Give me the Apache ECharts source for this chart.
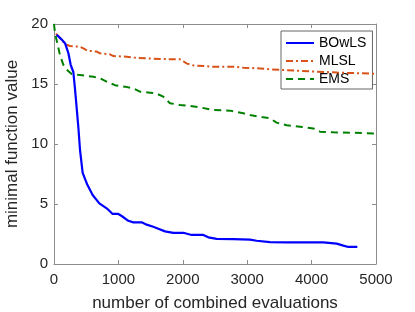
<!DOCTYPE html>
<html><head><meta charset="utf-8">
<script src="https://cdn.jsdelivr.net/npm/echarts@6/dist/echarts.min.js"></script>
<style>html,body{margin:0;padding:0;background:#fff}#c{width:415px;height:312px}</style>
</head><body><div id="c"></div>
<script>
const xTicks = [0, 1000, 2000, 3000, 4000, 5000];
const yTicks = [0, 5, 10, 15, 20];
const bowlsX = [41,119,171,222,259,300,326,378,404,445,518,600,704,818,911,999,1051,1154,1232,1361,1439,1542,1620,1724,1853,2008,2138,2319,2396,2526,2785,3043,3147,3354,3613,4182,4389,4493,4571,4710];
const bowlsY = [19.1,18.7,18.4,17.6,16.6,16.0,14.6,11.4,9.5,7.6,6.6,5.75,5.05,4.64,4.17,4.17,4.0,3.6,3.47,3.47,3.28,3.1,2.94,2.72,2.6,2.6,2.42,2.42,2.22,2.1,2.08,2.03,1.94,1.83,1.8,1.8,1.7,1.53,1.42,1.42];
const mlslX = [30,119,171,248,404,456,518,663,714,870,921,1128,1232,1646,1957,2065,2164,2474,2785,2940,3199,3354,3600,4000,4400,5000];
const mlslY = [19.2,18.7,18.33,18.17,18.1,17.97,17.78,17.7,17.56,17.47,17.33,17.28,17.2,17.08,17.06,16.7,16.55,16.44,16.44,16.36,16.3,16.22,16.15,16.05,15.95,15.85];
const emsX = [0,16,52,93,145,197,274,404,611,714,818,947,1102,1232,1335,1490,1594,1697,1801,1957,2112,2267,2474,2733,2940,3043,3250,3354,3457,3613,3820,4027,4130,4337,4648,5000];
const emsY = [20,19.2,18.4,17.4,16.6,16.2,15.83,15.75,15.6,15.47,15.2,14.9,14.78,14.64,14.36,14.28,14.2,13.94,13.4,13.25,13.17,13.05,12.83,12.78,12.56,12.42,12.22,12.14,11.78,11.56,11.44,11.3,11.03,10.97,10.94,10.86];
const names = ['BOwLS', 'MLSL', 'EMS'];
const zip = (a, b) => a.map((v, i) => [v, b[i]]);
const font = 'Liberation Sans';
const axisCol = '#8c8c8c';
const txtCol = '#262626';
const chart = echarts.init(document.getElementById('c'));
const baseX = {type:'value', min:0, max:5000, interval:1000,
  axisLine:{show:true, onZero:false, lineStyle:{color:axisCol, width:1}},
  axisTick:{show:true, inside:true, length:4, lineStyle:{color:axisCol}},
  splitLine:{show:false}};
const baseY = {type:'value', min:0, max:20, interval:5,
  axisLine:{show:true, onZero:false, lineStyle:{color:axisCol, width:1}},
  axisTick:{show:true, inside:true, length:4, lineStyle:{color:axisCol}},
  splitLine:{show:false}};
chart.setOption({
  animation:false,
  backgroundColor:'#fff',
  grid:{left:54, right:39, top:24, bottom:48, show:false, containLabel:false, outerBoundsMode:'none'},
  xAxis:[
    Object.assign({}, baseX, {position:'bottom', name:'number of combined evaluations', nameLocation:'middle', nameGap:31,
      nameTextStyle:{fontFamily:font, fontSize:17, color:txtCol},
      axisLabel:{fontFamily:font, fontSize:15, color:txtCol, margin:8, formatter:v=>xTicks.includes(v)?String(v):''}}),
    Object.assign({}, baseX, {position:'top', axisLabel:{show:false}})
  ],
  yAxis:[
    Object.assign({}, baseY, {position:'left', name:'minimal function value', nameLocation:'middle', nameGap:22,
      nameTextStyle:{fontFamily:font, fontSize:17, color:txtCol},
      axisLabel:{fontFamily:font, fontSize:15, color:txtCol, margin:6, formatter:v=>yTicks.includes(v)?String(v):''}}),
    Object.assign({}, baseY, {position:'right', axisLabel:{show:false}})
  ],
  legend:{
    orient:'vertical', left:281, top:31, data:names,
    backgroundColor:'#fff', borderColor:'#666', borderWidth:1, borderRadius:0,
    padding:[5,6,3,4], itemGap:4, itemWidth:28, itemHeight:14,
    itemStyle:{opacity:0},
    textStyle:{fontFamily:font, fontSize:14, color:'#000'}
  },
  series:[
    {name:names[0], type:'line', data:zip(bowlsX,bowlsY), symbol:'none', color:'#0000ff', lineStyle:{width:2.2, color:'#0000ff'}, z:5},
    {name:names[1], type:'line', data:zip(mlslX,mlslY), symbol:'none', color:'#d95319', lineStyle:{width:2, color:'#d95319', type:[7,3,2,3]}, z:4},
    {name:names[2], type:'line', data:zip(emsX,emsY), symbol:'none', color:'#008000', lineStyle:{width:2, color:'#008000', type:[7,5]}, z:3}
  ]
});
</script></body></html>
